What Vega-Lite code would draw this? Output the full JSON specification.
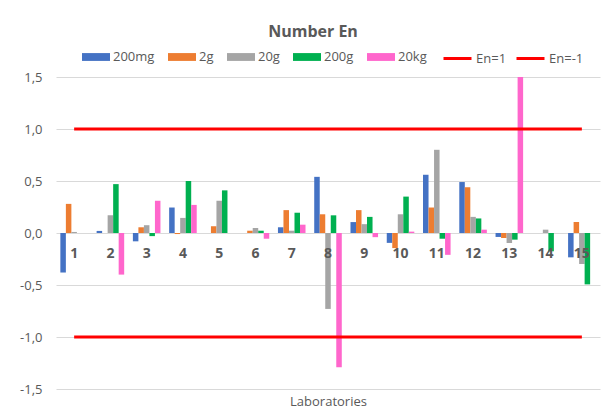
{
  "$schema": "https://vega.github.io/schema/vega-lite/v6.json",
  "width": 544,
  "height": 312,
  "autosize": "none",
  "padding": {"left": 56, "top": 77, "right": 5, "bottom": 24},
  "background": "white",
  "config": {"font": "Open Sans", "view": {"stroke": null}},
  "title": {"text": "Number En", "fontSize": 16, "fontWeight": "bold", "color": "#595959", "anchor": "middle", "dx": -15, "offset": 3},
  "datasets": {
    "bars": [
      {"lab": 1, "series": "200mg", "value": -0.38}, {"lab": 1, "series": "2g", "value": 0.28}, {"lab": 1, "series": "20g", "value": 0.01}, {"lab": 1, "series": "200g", "value": 0}, {"lab": 1, "series": "20kg", "value": 0},
      {"lab": 2, "series": "200mg", "value": 0.02}, {"lab": 2, "series": "2g", "value": 0}, {"lab": 2, "series": "20g", "value": 0.17}, {"lab": 2, "series": "200g", "value": 0.47}, {"lab": 2, "series": "20kg", "value": -0.4},
      {"lab": 3, "series": "200mg", "value": -0.08}, {"lab": 3, "series": "2g", "value": 0.055}, {"lab": 3, "series": "20g", "value": 0.075}, {"lab": 3, "series": "200g", "value": -0.03}, {"lab": 3, "series": "20kg", "value": 0.31},
      {"lab": 4, "series": "200mg", "value": 0.245}, {"lab": 4, "series": "2g", "value": -0.01}, {"lab": 4, "series": "20g", "value": 0.145}, {"lab": 4, "series": "200g", "value": 0.5}, {"lab": 4, "series": "20kg", "value": 0.27},
      {"lab": 5, "series": "200mg", "value": 0}, {"lab": 5, "series": "2g", "value": 0.065}, {"lab": 5, "series": "20g", "value": 0.31}, {"lab": 5, "series": "200g", "value": 0.41}, {"lab": 5, "series": "20kg", "value": 0},
      {"lab": 6, "series": "200mg", "value": 0}, {"lab": 6, "series": "2g", "value": 0.022}, {"lab": 6, "series": "20g", "value": 0.048}, {"lab": 6, "series": "200g", "value": 0.022}, {"lab": 6, "series": "20kg", "value": -0.055},
      {"lab": 7, "series": "200mg", "value": 0.055}, {"lab": 7, "series": "2g", "value": 0.22}, {"lab": 7, "series": "20g", "value": 0.022}, {"lab": 7, "series": "200g", "value": 0.195}, {"lab": 7, "series": "20kg", "value": 0.08},
      {"lab": 8, "series": "200mg", "value": 0.54}, {"lab": 8, "series": "2g", "value": 0.18}, {"lab": 8, "series": "20g", "value": -0.73}, {"lab": 8, "series": "200g", "value": 0.17}, {"lab": 8, "series": "20kg", "value": -1.29},
      {"lab": 9, "series": "200mg", "value": 0.105}, {"lab": 9, "series": "2g", "value": 0.22}, {"lab": 9, "series": "20g", "value": 0.085}, {"lab": 9, "series": "200g", "value": 0.155}, {"lab": 9, "series": "20kg", "value": -0.04},
      {"lab": 10, "series": "200mg", "value": -0.095}, {"lab": 10, "series": "2g", "value": -0.145}, {"lab": 10, "series": "20g", "value": 0.18}, {"lab": 10, "series": "200g", "value": 0.35}, {"lab": 10, "series": "20kg", "value": 0.013},
      {"lab": 11, "series": "200mg", "value": 0.56}, {"lab": 11, "series": "2g", "value": 0.245}, {"lab": 11, "series": "20g", "value": 0.8}, {"lab": 11, "series": "200g", "value": -0.055}, {"lab": 11, "series": "20kg", "value": -0.21},
      {"lab": 12, "series": "200mg", "value": 0.49}, {"lab": 12, "series": "2g", "value": 0.44}, {"lab": 12, "series": "20g", "value": 0.155}, {"lab": 12, "series": "200g", "value": 0.14}, {"lab": 12, "series": "20kg", "value": 0.032},
      {"lab": 13, "series": "200mg", "value": -0.038}, {"lab": 13, "series": "2g", "value": -0.048}, {"lab": 13, "series": "20g", "value": -0.096}, {"lab": 13, "series": "200g", "value": -0.064}, {"lab": 13, "series": "20kg", "value": 1.5},
      {"lab": 14, "series": "200mg", "value": 0}, {"lab": 14, "series": "2g", "value": 0}, {"lab": 14, "series": "20g", "value": 0.032}, {"lab": 14, "series": "200g", "value": -0.176}, {"lab": 14, "series": "20kg", "value": 0},
      {"lab": 15, "series": "200mg", "value": -0.234}, {"lab": 15, "series": "2g", "value": 0.106}, {"lab": 15, "series": "20g", "value": -0.298}, {"lab": 15, "series": "200g", "value": -0.494}, {"lab": 15, "series": "20kg", "value": 0}
    ],
    "limits": [
      {"series": "En=1", "lab": 1, "value": 1}, {"series": "En=1", "lab": 15, "value": 1},
      {"series": "En=-1", "lab": 1, "value": -1}, {"series": "En=-1", "lab": 15, "value": -1}
    ]
  },
  "layer": [
    {
      "data": {"name": "bars"},
      "mark": {"type": "bar"},
      "encoding": {
        "x": {
          "field": "lab", "type": "ordinal",
          "scale": {"type": "band", "paddingInner": 0.24, "paddingOuter": 0.12},
          "axis": {"labels": false, "ticks": false, "domain": false, "grid": false, "title": "Laboratories", "titleFontSize": 13, "titleFontWeight": "normal", "titleColor": "#595959", "titlePadding": 6}
        },
        "xOffset": {"field": "series", "type": "nominal", "scale": {"domain": ["200mg", "2g", "20g", "200g", "20kg"], "paddingInner": 0, "paddingOuter": 0}},
        "y": {
          "field": "value", "type": "quantitative",
          "scale": {"domain": [-1.5, 1.5], "nice": false, "zero": false},
          "axis": {"title": null, "values": [-1.5, -1, -0.5, 0, 0.5, 1, 1.5], "labelExpr": "replace(replace(format(datum.value, '.1f'), '.', ','), '\u2212', '-')", "ticks": false, "domain": false, "gridColor": "#d9d9d9", "gridWidth": 1, "labelFontSize": 13, "labelColor": "#595959", "labelPadding": 14}
        },
        "color": {
          "field": "series", "type": "nominal",
          "scale": {"domain": ["200mg", "2g", "20g", "200g", "20kg"], "range": ["#4472c4", "#ed7d31", "#a5a5a5", "#00b050", "#ff66cc"]},
          "legend": {"orient": "none", "legendX": 26, "legendY": -34, "direction": "horizontal", "title": null, "symbolType": "M-1,-0.28H1V0.28H-1Z", "symbolSize": 784, "symbolStrokeWidth": 0, "labelFontSize": 13, "labelColor": "#595959", "columnPadding": 13, "labelOffset": 3}
        }
      }
    },
    {
      "data": {"name": "bars"},
      "transform": [{"filter": "datum.series === '200mg'"}],
      "mark": {"type": "text", "fontSize": 14, "fontWeight": "bold", "color": "#595959", "dy": 21},
      "encoding": {
        "x": {"field": "lab", "type": "ordinal"},
        "y": {"datum": 0, "type": "quantitative"},
        "text": {"field": "lab", "type": "ordinal"}
      }
    },
    {
      "data": {"name": "limits"},
      "mark": {"type": "line", "strokeWidth": 3},
      "encoding": {
        "x": {"field": "lab", "type": "ordinal"},
        "y": {"field": "value", "type": "quantitative"},
        "stroke": {
          "field": "series", "type": "nominal",
          "scale": {"domain": ["En=1", "En=-1"], "range": ["#ff0000", "#ff0000"]},
          "legend": {"orient": "none", "legendX": 386, "legendY": -34, "direction": "horizontal", "title": null, "symbolType": "stroke", "symbolSize": 784, "symbolStrokeWidth": 3, "labelFontSize": 13, "labelColor": "#595959", "columnPadding": 3, "labelOffset": 3, "gridAlign": "none"}
        }
      }
    }
  ]
}
